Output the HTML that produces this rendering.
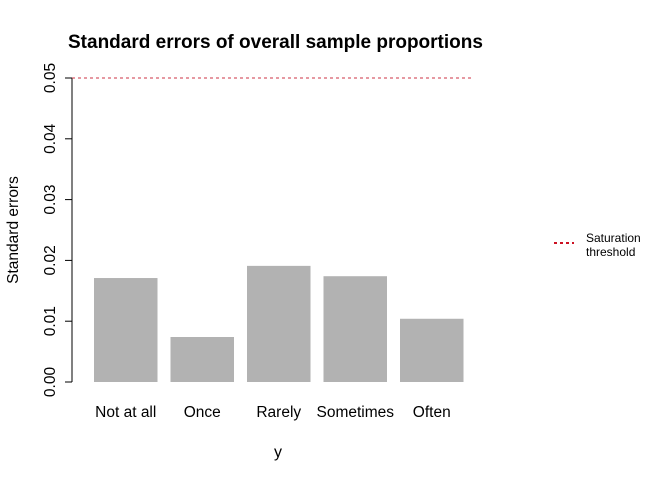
<!DOCTYPE html>
<html><head><meta charset="utf-8"><style>body{margin:0;background:#fff}svg{display:block;font-family:"Liberation Sans",Arial,sans-serif}</style></head>
<body>
<svg id="c" width="672" height="480">
<text x="68" y="48" font-size="19" font-weight="bold">Standard errors of overall sample proportions</text>
<text transform="translate(18,230) rotate(-90)" text-anchor="middle" font-size="15.5">Standard errors</text>
<text x="278" y="457" text-anchor="middle" font-size="16">y</text>
<g id="legend">
<line x1="554" y1="243" x2="574" y2="243" stroke="#cc1122" stroke-width="2" stroke-dasharray="3,3"/>
<text x="586" y="242" font-size="12">Saturation</text>
<text x="586" y="256" font-size="12">threshold</text>
</g>
</svg>
<script>
const categories=["Not at all","Once","Rarely","Sometimes","Often"];
const values=[0.0171,0.0074,0.0191,0.0174,0.0104];
const ticks=[0,0.01,0.02,0.03,0.04,0.05];
const tickLabels=["0.00","0.01","0.02","0.03","0.04","0.05"];
const threshold=0.05;
const NS="http://www.w3.org/2000/svg",svg=document.getElementById('c');
const y=v=>382-v*6080;
const xs=i=>94+i*76.5;
function mk(t,a,txt){const e=document.createElementNS(NS,t);for(const k in a)e.setAttribute(k,a[k]);if(txt!=null)e.textContent=txt;svg.appendChild(e);return e;}
values.forEach((v,i)=>{
const r=mk('rect',{x:xs(i),y:y(v),width:63.5,height:382-y(v),fill:'#b2b2b2'});


const t=mk('text',{x:xs(i)+31.75,y:417,'text-anchor':'middle','font-size':15.5},categories[i]);


});
const ax=mk('line',{x1:72,x2:72,y1:y(0),y2:y(0.05),stroke:'#000'});


ticks.forEach((v,i)=>{
const l=mk('line',{x1:65,x2:72,y1:y(v),y2:y(v),stroke:'#000'});


const t=mk('text',{transform:`translate(55,${y(v)}) rotate(-90)`,'text-anchor':'middle','font-size':15.5},tickLabels[i]);


});
const th=mk('line',{x1:72,x2:474,y1:y(threshold),y2:y(threshold),stroke:'#cc3344','stroke-dasharray':'3,3'});


</script>
</body></html>
